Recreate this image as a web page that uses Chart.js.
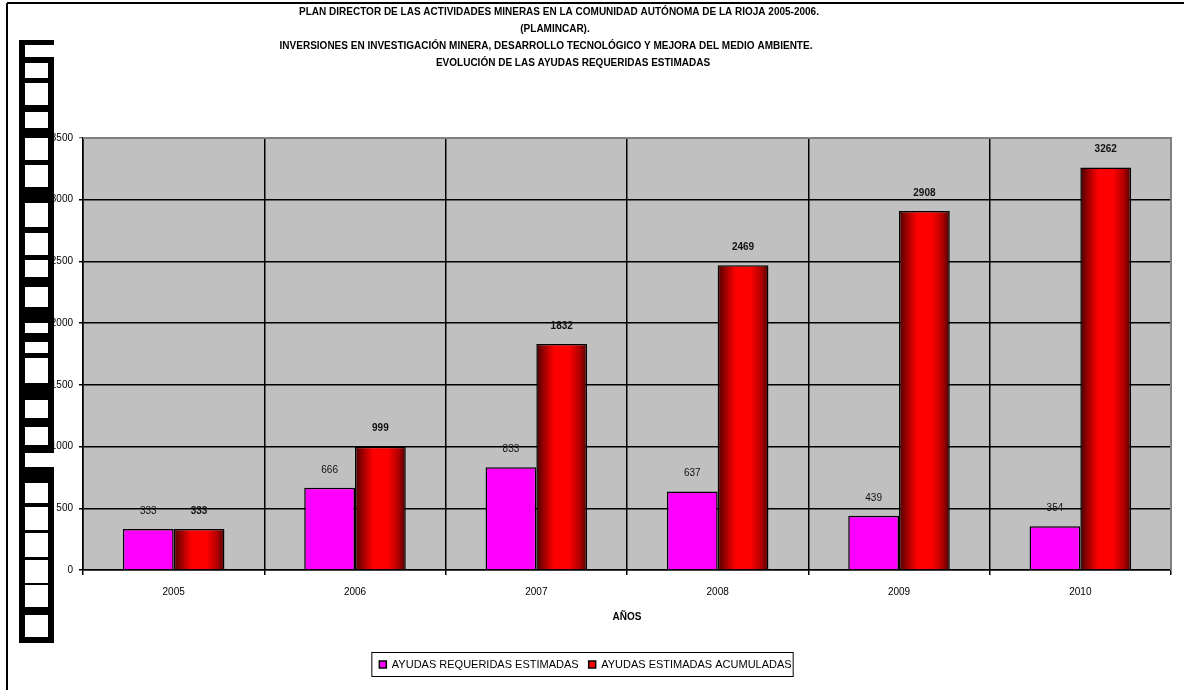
<!DOCTYPE html>
<html>
<head>
<meta charset="utf-8">
<script src="https://cdn.jsdelivr.net/npm/chart.js@4.4.0/dist/chart.umd.min.js"></script>
<style>
    html, body { margin: 0; padding: 0; background: #ffffff; }
    #wrap { width: 1188px; height: 690px; }
</style>
</head>
<body>
<div id="wrap"><canvas id="myChart" width="1188" height="690"></canvas></div>
<script>
const years = ["2005", "2006", "2007", "2008", "2009", "2010"];
const ayudasRequeridas = [333, 666, 833, 637, 439, 354];
const ayudasAcumuladas = [333, 999, 1832, 2469, 2908, 3262];
const seriesNames = ["AYUDAS REQUERIDAS ESTIMADAS", "AYUDAS ESTIMADAS ACUMULADAS"];
const titleLines = [
    "PLAN DIRECTOR DE LAS ACTIVIDADES MINERAS EN LA COMUNIDAD AUTÓNOMA DE LA RIOJA 2005-2006.",
    "(PLAMINCAR).",
    "INVERSIONES EN INVESTIGACIÓN MINERA, DESARROLLO TECNOLÓGICO Y MEJORA DEL MEDIO AMBIENTE.",
    "EVOLUCIÓN DE LAS AYUDAS REQUERIDAS ESTIMADAS",
];
const axisTitle = "AÑOS";

const FONT = "'Liberation Sans', Arial, sans-serif";
const CAT_PCT = 0.56;

// red "cylinder" look for the accumulated bars
function cylinderFill(context) {
    const chart = context.chart;
    const xScale = chart.scales.x;
    if (!xScale || !chart.chartArea || context.dataIndex === undefined) return "#ff0000";
    const center = xScale.getPixelForValue(context.dataIndex);
    const barW = (xScale.width / years.length) * CAT_PCT / 2;
    const g = chart.ctx.createLinearGradient(center, 0, center + barW, 0);
    g.addColorStop(0, "#4a0000");
    g.addColorStop(0.22, "#c00000");
    g.addColorStop(0.36, "#ff0000");
    g.addColorStop(0.64, "#ff0000");
    g.addColorStop(0.86, "#b00000");
    g.addColorStop(1, "#4a0000");
    return g;
}

// page frame, grey plot background, odd vertical strip on the left
const backdrop = {
    id: "backdrop",
    beforeDraw(chart) {
        const ctx = chart.ctx;
        const a = chart.chartArea;
        ctx.save();
        ctx.fillStyle = "#ffffff";
        ctx.fillRect(0, 0, chart.width, chart.height);
        ctx.fillStyle = "#c0c0c0";
        ctx.fillRect(a.left, a.top, a.right - a.left, a.bottom - a.top);

        ctx.strokeStyle = "#000";
        ctx.lineWidth = 2;
        ctx.beginPath();
        ctx.moveTo(7, 3);
        ctx.lineTo(1184, 3);
        ctx.moveTo(7, 3);
        ctx.lineTo(7, chart.height);
        ctx.stroke();

        // strip
        ctx.fillStyle = "#000";
        ctx.fillRect(19, 40, 35, 603);
        ctx.fillStyle = "#fff";
        ctx.fillRect(25, 45, 29, 12);
        ctx.fillRect(25, 453, 29, 14);
        const blocks = [[63, 78], [83, 105], [112, 128], [138, 160], [165, 187], [203, 227],
            [233, 255], [260, 277], [287, 307], [323, 333], [342, 353], [358, 383], [400, 418],
            [427, 445], [483, 503], [507, 530], [533, 557], [560, 583], [585, 607], [615, 637]];
        blocks.forEach(([y0, y1]) => ctx.fillRect(25, y0, 23, y1 - y0));
        ctx.restore();
    },
    afterDraw(chart) {
        const ctx = chart.ctx;
        const a = chart.chartArea;
        ctx.save();
        // grey plot border top/right
        ctx.strokeStyle = "#808080";
        ctx.lineWidth = 2;
        ctx.beginPath();
        ctx.moveTo(a.left, a.top);
        ctx.lineTo(a.right, a.top);
        ctx.lineTo(a.right, a.bottom);
        ctx.stroke();

        // title
        ctx.fillStyle = "#000";
        ctx.font = "bold 10px " + FONT;
        ctx.textAlign = "center";
        ctx.textBaseline = "middle";
        const centers = [559, 555, 546, 573];
        titleLines.forEach((line, i) => ctx.fillText(line, centers[i], 12 + i * 17));

        // legend frame
        const hb = chart.legend.legendHitBoxes;
        if (hb && hb.length) {
            const last = hb[hb.length - 1];
            ctx.strokeStyle = "#000";
            ctx.lineWidth = 1;
            ctx.strokeRect(hb[0].left - 7.5, hb[0].top - 6.5, last.left + last.width - hb[0].left + 9, hb[0].height + 13);
        }
        ctx.restore();
    },
    afterDatasetsDraw(chart) {
        const ctx = chart.ctx;
        ctx.save();
        ctx.fillStyle = "#111";
        ctx.textAlign = "center";
        ctx.textBaseline = "middle";
        chart.data.datasets.forEach((ds, di) => {
            ctx.font = (di === 1 ? "bold " : "") + "10px " + FONT;
            chart.getDatasetMeta(di).data.forEach((bar, i) => {
                ctx.fillText(String(ds.data[i]), bar.x, bar.y - 18);
            });
        });
        ctx.restore();
    },
};

const data = {
    labels: years,
    datasets: [
        {
            label: seriesNames[0],
            data: ayudasRequeridas,
            backgroundColor: "#ff00ff",
            borderColor: "#000",
            borderWidth: 1.5,
        },
        {
            label: seriesNames[1],
            data: ayudasAcumuladas,
            backgroundColor: cylinderFill,
            borderColor: "#000",
            borderWidth: 1.5,
        },
    ],
};

const config = {
    type: "bar",
    data: data,
    options: {
        responsive: false,
        animation: false,
        devicePixelRatio: 1,
        layout: { padding: { top: 138, right: 17, bottom: 10, left: 0 } },
        datasets: {
            bar: { categoryPercentage: CAT_PCT, barPercentage: 1 },
        },
        plugins: {
            title: { display: false },
            tooltip: { enabled: false },
            legend: {
                position: "bottom",
                labels: {
                    boxWidth: 7,
                    boxHeight: 7,
                    color: "#000",
                    padding: 10,
                    font: { family: FONT, size: 11 },
                    generateLabels(chart) {
                        const items = Chart.defaults.plugins.legend.labels.generateLabels(chart);
                        items.forEach((it) => {
                            if (it.datasetIndex === 1) it.fillStyle = "#ff0000";
                            it.lineWidth = 1.5;
                        });
                        return items;
                    },
                },
            },
        },
        scales: {
            x: {
                grid: {
                    offset: true,
                    color: (c) => (c.index === years.length ? "#808080" : "#000"),
                    lineWidth: 1.5,
                    tickLength: 5,
                },
                border: { color: "#000", width: 1.5 },
                ticks: { color: "#000", padding: 11, font: { family: FONT, size: 10 } },
                title: {
                    display: true,
                    text: axisTitle,
                    color: "#000",
                    font: { family: FONT, size: 10, weight: "bold" },
                    padding: { top: 4, bottom: 26 },
                },
                afterFit(scale) { scale.height = 79; },
            },
            y: {
                min: 0,
                max: 3500,
                grid: {
                    color: (c) => (c.tick && c.tick.value === 3500 ? "#808080" : "#000"),
                    lineWidth: 1.5,
                    tickLength: 4,
                },
                border: { color: "#000", width: 1.5 },
                ticks: {
                    stepSize: 500,
                    color: "#000",
                    padding: 6,
                    font: { family: FONT, size: 10 },
                    callback: (v) => String(v),
                },
                afterFit(scale) { scale.width = 83; },
            },
        },
    },
    plugins: [backdrop],
};

document.addEventListener("DOMContentLoaded", function () {
    const ctx = document.getElementById("myChart").getContext("2d");
    new Chart(ctx, config);
});
</script>
</body>
</html>
